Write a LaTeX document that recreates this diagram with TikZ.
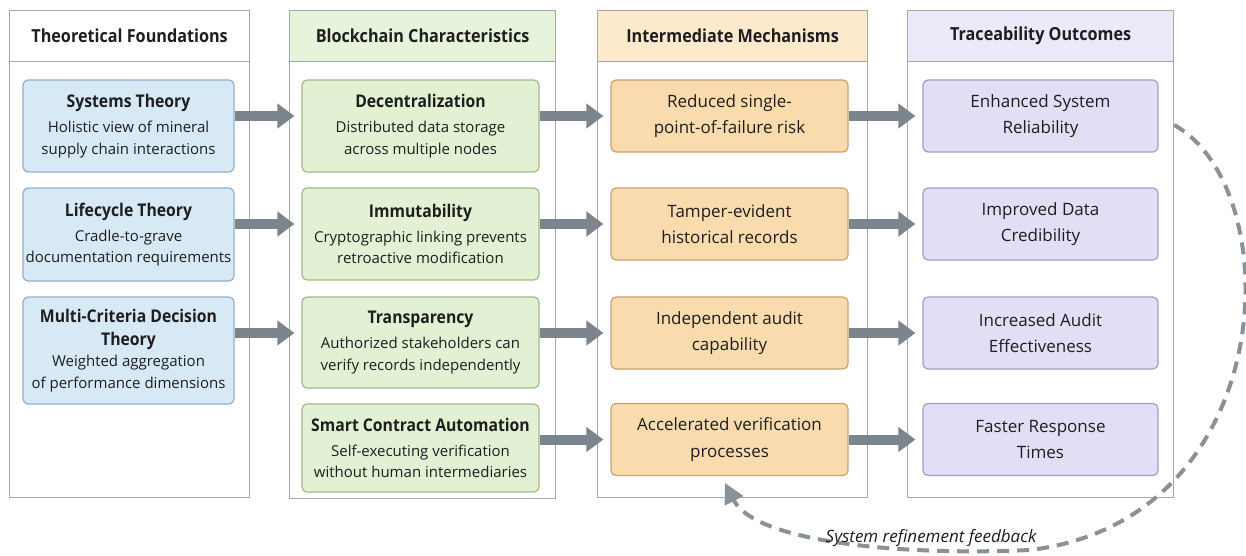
\documentclass[tikz,border=0pt]{standalone}
\usepackage{fontspec}
\setmainfont{Open Sans}[BoldFeatures={FakeStretch=0.9}]
\usetikzlibrary{arrows.meta}
\definecolor{frame}{HTML}{A8A8A8}
\definecolor{bluef}{HTML}{D8E9F6}\definecolor{blued}{HTML}{8FB0CC}
\definecolor{greenf}{HTML}{E2F1D4}\definecolor{greend}{HTML}{9DBB85}\definecolor{greenh}{HTML}{E7F4DC}
\definecolor{orangef}{HTML}{FADBAE}\definecolor{oranged}{HTML}{C9A270}\definecolor{orangeh}{HTML}{FDE9CB}
\definecolor{purplef}{HTML}{E2DEF5}\definecolor{purpled}{HTML}{A49CCB}\definecolor{purpleh}{HTML}{ECE9F9}
\definecolor{arrowc}{HTML}{7C858E}
\definecolor{txt}{HTML}{1E1E1E}
\tikzset{
  colframe/.style={draw=frame, line width=1.2pt, fill=white},
  colhead/.style={draw=frame, line width=1.2pt, font=\fontsize{18}{22}\selectfont\bfseries, text=txt, inner sep=0pt},
  card/.style={rounded corners=5pt, line width=1.2pt, align=center, inner sep=0pt, text=txt},
  bluecard/.style={card, draw=blued, fill=bluef, minimum width=211pt, font=\fontsize{15}{21.5}\selectfont},
  greencard/.style={card, draw=greend, fill=greenf, minimum width=237pt, font=\fontsize{15}{21.5}\selectfont},
  orangecard/.style={card, draw=oranged, fill=orangef, minimum width=237pt, minimum height=72pt, font=\fontsize{17}{26.5}\selectfont},
  purplecard/.style={card, draw=purpled, fill=purplef, minimum width=235pt, minimum height=72pt, font=\fontsize{17}{26.5}\selectfont},
  fat/.style={draw=arrowc, line width=10pt, -{Triangle[length=17pt,width=24pt]}, shorten >=7pt},
  feedback/.style={draw=arrowc!90, line width=4pt, dash pattern=on 12pt off 8pt, -{Triangle[length=20pt,width=20pt]}},
}
\newcommand{\ttl}[1]{{\fontsize{17.5}{22}\selectfont\bfseries #1}}
\begin{document}
\begin{tikzpicture}[x=1pt,y=-1pt]
\useasboundingbox[fill=white] (0,0) rectangle (1246,556);
% column frames
\node[colframe, anchor=north west, minimum width=240pt, minimum height=487pt] (col1) at (9,10) {};
\node[colframe, anchor=north west, minimum width=266pt, minimum height=488pt] (col2) at (289,10) {};
\node[colframe, anchor=north west, minimum width=270pt, minimum height=487pt] (col3) at (597,10) {};
\node[colframe, anchor=north west, minimum width=266pt, minimum height=487pt] (col4) at (907,10) {};
% headers
\node[colhead, fill=white, anchor=north west, minimum width=240pt, minimum height=51pt] (h1) at (9,10) {Theoretical Foundations};
\node[colhead, fill=greenh, anchor=north west, minimum width=266pt, minimum height=51pt] (h2) at (289,10) {Blockchain Characteristics};
\node[colhead, fill=orangeh, anchor=north west, minimum width=270pt, minimum height=51pt] (h3) at (597,10) {Intermediate Mechanisms};
\node[colhead, fill=purpleh, anchor=north west, minimum width=266pt, minimum height=51pt] (h4) at (907,10) {Traceability Outcomes};
% column 1
\node[bluecard, minimum height=92pt] (a1) at (128.5,126) {\ttl{Systems Theory}\\[3.5pt]Holistic view of mineral\\supply chain interactions};
\node[bluecard, minimum height=93pt] (a2) at (128.5,234.5) {\ttl{Lifecycle Theory}\\[3.5pt]Cradle-to-grave\\documentation requirements};
\node[bluecard, minimum height=107pt] (a3) at (128.5,350.5) {\ttl{Multi-Criteria Decision}\\[1.5pt]\ttl{Theory}\\[0pt]Weighted aggregation\\of performance dimensions};
% column 2
\node[greencard, minimum height=92pt] (b1) at (420.5,126) {\ttl{Decentralization}\\[3.5pt]Distributed data storage\\across multiple nodes};
\node[greencard, minimum height=92pt] (b2) at (420.5,234) {\ttl{Immutability}\\[3.5pt]Cryptographic linking prevents\\retroactive modification};
\node[greencard, minimum height=91pt] (b3) at (420.5,342.5) {\ttl{Transparency}\\[3.5pt]Authorized stakeholders can\\verify records independently};
\node[greencard, minimum height=88pt] (b4) at (420.5,448) {\ttl{Smart Contract Automation}\\[3.5pt]Self-executing verification\\without human intermediaries};
% column 3
\node[orangecard] (c1) at (729.5,116) {Reduced single-\\point-of-failure risk};
\node[orangecard] (c2) at (729.5,224) {Tamper-evident\\historical records};
\node[orangecard] (c3) at (729.5,333) {Independent audit\\capability};
\node[orangecard] (c4) at (729.5,439.5) {Accelerated verification\\processes};
% column 4
\node[purplecard] (d1) at (1040.5,116) {Enhanced System\\Reliability};
\node[purplecard] (d2) at (1040.5,224) {Improved Data\\Credibility};
\node[purplecard] (d3) at (1040.5,333) {Increased Audit\\Effectiveness};
\node[purplecard] (d4) at (1040.5,439.5) {Faster Response\\Times};
% arrows
\draw[fat] (a1.east |- c1) -- (b1.west |- c1);
\draw[fat] (a2.east |- c2) -- (b2.west |- c2);
\draw[fat] (a3.east |- c3) -- (b3.west |- c3);
\draw[fat] (b1.east |- c1) -- (c1.west);
\draw[fat] (b2.east |- c2) -- (c2.west);
\draw[fat] (b3.east |- c3) -- (c3.west);
\draw[fat] (b4.east |- c4) -- (c4.west);
\draw[fat] (c1.east) -- (d1.west);
\draw[fat] (c2.east) -- (d2.west);
\draw[fat] (c3.east) -- (d3.west);
\draw[fat] (c4.east) -- (d4.west);
% feedback
\coordinate (fbstart) at (col4.east |- 0,125);
\coordinate (fbmid) at (1030,550);
\coordinate (fbend) at (725,483);
\draw[feedback] (fbstart) .. controls (1290,190) and (1280,520) .. (fbmid) .. controls (900,556) and (755,542) .. (fbend);
\node[font=\fontsize{17}{20}\selectfont\itshape, text=txt] (fblabel) at (931,538) {System refinement feedback};
\end{tikzpicture}
\end{document}
